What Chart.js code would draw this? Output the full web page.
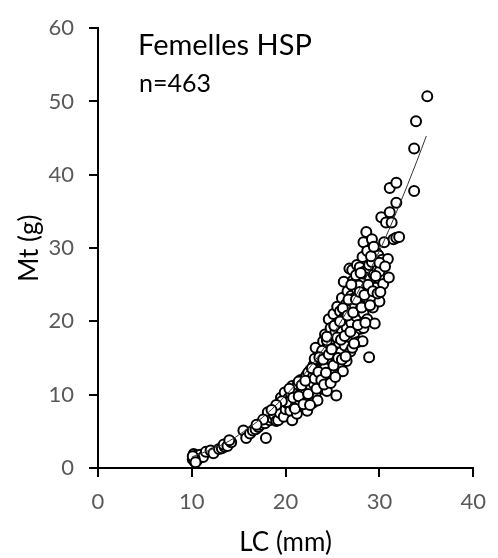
<!DOCTYPE html>
<html>
<head>
<meta charset="utf-8">
<script src="https://cdn.jsdelivr.net/npm/chart.js@4"></script>
<style>
    body { margin: 0; background: #fff; }
</style>
</head>
<body>
<canvas id="chart" width="498" height="558"></canvas>
<script>
// LC (mm) / Mt (g)
const lcValues = [
    10.1, 10.2, 10.3, 10.4, 10.2, 10.6, 10.5, 10.9, 11.2, 11.5, 12.0, 12.3, 12.9, 13.2, 13.5, 13.4, 13.8, 14.2, 14.0,
    15.5, 15.8, 16.2, 16.5, 16.8, 17.1, 17.3, 17.9, 17.8, 18.0, 18.3, 18.1, 18.6, 18.8, 19.0, 19.2, 19.2, 19.4, 19.5, 19.7, 19.9, 19.8,
    20.0, 20.2, 20.3, 20.5, 20.7, 20.7, 20.6, 20.9, 21.0, 21.1, 21.2, 21.3, 21.5, 21.5, 21.6, 21.8, 21.9, 22.0, 22.1, 22.2,
    22.3, 22.3, 22.5, 22.6, 22.7, 22.8, 22.9, 23.0, 23.0, 23.1, 23.2, 23.2, 23.3, 23.4, 23.5, 23.6, 23.7, 23.8, 23.9, 24.0,
    24.0, 24.1, 24.2, 24.2, 24.3, 24.4, 24.5, 24.6, 24.6, 24.7, 24.8, 24.9, 25.0, 25.0, 25.1, 25.2, 25.3, 25.4, 25.4, 25.5,
    25.5, 25.6, 25.7, 25.8, 25.8, 25.9, 26.0, 26.0, 26.1, 26.2, 26.2, 26.3, 26.4, 26.5, 26.5, 26.6, 26.7, 26.8, 26.8, 26.9,
    27.0, 27.0, 27.1, 27.1, 27.2, 27.3, 27.4, 27.5, 27.6, 27.6, 27.7, 27.8, 27.9, 27.9, 28.0, 28.0, 28.1, 28.2, 28.3, 28.3,
    28.3, 28.4, 28.5, 28.6, 28.6, 28.6, 28.7, 28.8, 28.9, 28.9, 29.0, 29.1, 29.2, 29.2, 29.3, 29.4, 29.5, 29.6, 29.7, 29.8,
    29.9, 30.0, 30.0, 30.2, 30.3, 30.4, 30.5, 30.7, 30.9, 31.0, 31.1, 31.1, 31.3, 31.5, 31.8, 31.8, 31.8, 32.1, 33.7, 33.7,
    33.9, 35.1,
    21.4, 22.4, 23.1, 23.9, 24.4, 25.2, 25.9, 26.4, 27.2, 27.8, 22.9, 24.8, 26.7, 28.1,
    20.1, 20.4, 20.8, 21.0, 21.4, 21.7, 21.9, 22.1, 22.4, 22.6, 22.8, 23.1, 23.3, 23.5, 23.6, 23.8, 24.0, 24.1, 24.3, 24.4,
    24.6, 24.8, 24.9, 25.1, 25.2, 25.3, 25.5, 25.6, 25.8, 25.9, 26.0, 26.1, 26.3, 26.4, 26.6, 26.7, 26.9, 27.0, 27.2, 27.3,
    27.5, 27.5, 27.7, 27.9, 28.0, 28.1, 28.2, 28.4, 28.5, 28.7, 28.8, 29.0, 29.1, 29.3, 29.4, 29.6, 29.8, 30.0, 30.1, 30.6,
    19.6, 19.0, 18.5, 17.6, 16.9, 10.3, 10.1, 10.4
];
const mtValues = [
    1.2, 1.6, 0.9, 1.4, 1.9, 1.1, 1.7, 1.8, 1.5, 2.2, 2.4, 2.0, 2.6, 2.7, 2.9, 3.2, 3.0, 3.5, 3.8,
    5.1, 4.1, 4.7, 5.1, 5.3, 5.6, 5.9, 4.1, 6.1, 6.9, 6.5, 7.6, 6.8, 7.2, 6.4, 6.5, 8.2, 7.5, 9.6, 8.7, 10.3, 7.0,
    8.0, 8.8, 9.5, 7.8, 6.5, 11.2, 10.1, 8.4, 9.3, 10.6, 7.4, 11.4, 8.9, 10.0, 12.0, 9.6, 11.0, 8.3, 10.4, 12.6,
    7.8, 11.7, 9.4, 13.3, 10.9, 12.1, 8.9, 14.1, 11.5, 13.9, 16.4, 10.2, 12.8, 9.2, 14.8, 11.9, 13.4, 15.6, 10.8, 12.5,
    17.3, 14.2, 13.6, 18.2, 15.9, 10.5, 16.8, 20.3, 12.1, 14.9, 19.1, 13.2, 17.6, 15.4, 21.0, 12.8, 18.5, 9.9, 16.3, 22.0,
    14.1, 19.8, 17.1, 13.9, 21.4, 15.8, 23.2, 18.6, 13.2, 25.4, 20.5, 16.7, 22.3, 14.6, 19.2, 24.1, 17.9, 27.2, 21.6, 15.9,
    23.5, 19.8, 16.4, 27.0, 25.6, 18.3, 22.0, 20.7, 27.7, 24.4, 17.2, 26.1, 27.4, 21.5, 19.0, 23.3, 25.2, 17.3, 30.8, 21.1,
    19.1, 26.8, 28.5, 32.2, 24.5, 22.7, 20.3, 27.3, 15.1, 27.7, 25.8, 23.4, 31.2, 28.1, 21.9, 26.4, 19.7, 24.6, 29.3, 27.0,
    29.0, 26.8, 22.7, 34.2, 28.4, 25.1, 30.8, 33.5, 28.5, 26.0, 38.2, 34.9, 33.5, 31.2, 38.9, 36.2, 31.4, 31.5, 37.8, 43.6,
    47.3, 50.7,
    11.8, 13.0, 14.9, 16.0, 17.4, 19.4, 20.1, 21.2, 23.1, 24.9, 12.4, 15.6, 20.9, 22.1,
    9.0, 10.8, 9.6, 8.1, 9.8, 11.3, 8.7, 11.9, 10.1, 8.6, 13.6, 12.2, 10.8, 13.1, 15.1, 12.0, 14.8, 11.4, 13.0, 17.9,
    15.5, 11.6, 16.2, 14.0, 19.4, 12.4, 17.8, 15.0, 20.0, 17.5, 14.8, 21.8, 18.0, 15.2, 20.8, 23.0, 18.6, 25.0, 21.2, 17.0,
    26.3, 23.0, 19.5, 24.0, 26.6, 21.9, 28.8, 23.6, 19.8, 29.6, 25.0, 22.2, 28.9, 24.1, 30.2, 26.2, 23.8, 28.0, 24.0, 27.5,
    9.1, 8.6, 7.9, 6.6, 5.9, 1.3, 1.6, 0.8
];

// fitted curve
const trendLC = [10, 12, 14, 16, 18, 20, 22, 24, 26, 28, 30, 32, 34, 35];
const trendMt = [1.5, 2.5, 3.7, 5.4, 7.4, 9.9, 12.8, 16.2, 20.2, 24.7, 29.6, 35.5, 41.9, 45.3];

const xTicks = [0, 10, 20, 30, 40];
const yTicks = [0, 10, 20, 30, 40, 50, 60];

const titleText = 'Femelles HSP';
const countText = 'n=463';

const FONT = 'Lato';

const points = lcValues.map((x, i) => ({ x, y: mtValues[i] }));
const trend = trendLC.map((x, i) => ({ x, y: trendMt[i] }));

const labelPlugin = {
    id: 'labels',
    afterDraw(chart) {
        const ctx = chart.ctx;
        ctx.save();
        ctx.fillStyle = '#000';
        ctx.textBaseline = 'alphabetic';
        ctx.textAlign = 'left';
        ctx.font = `29px ${FONT}`;
        ctx.fillText(titleText, 138, 55);
        ctx.font = `25px ${FONT}`;
        ctx.fillText(countText, 139, 92);
        ctx.restore();
    },
};

const axisStyle = {
    grid: { drawOnChartArea: false, drawTicks: true, tickLength: 9, color: '#000', lineWidth: 2 },
    border: { color: '#000', width: 2 },
};

new Chart(document.getElementById('chart'), {
    type: 'scatter',
    data: {
        datasets: [
            {
                type: 'line',
                data: trend,
                borderColor: '#333',
                borderWidth: 1,
                pointRadius: 0,
                cubicInterpolationMode: 'monotone',
                fill: false,
                order: 0,
            },
            {
                data: points,
                pointRadius: 5,
                pointBorderWidth: 2,
                pointBorderColor: '#000',
                pointBackgroundColor: '#fff',
                order: 1,
            },
        ],
    },
    options: {
        responsive: false,
        animation: false,
        devicePixelRatio: 1,
        layout: { padding: { top: 24, right: 20, left: 0, bottom: 0 } },
        plugins: { legend: { display: false }, tooltip: { enabled: false } },
        events: [],
        scales: {
            x: {
                type: 'linear',
                min: xTicks[0],
                max: xTicks[xTicks.length - 1],
                afterBuildTicks(scale) { scale.ticks = xTicks.map(v => ({ value: v })); },
                afterFit(scale) { scale.height = 90; },
                ticks: { color: '#595959', font: { family: FONT, size: 22 }, padding: 12 },
                title: { display: true, text: 'LC (mm)', color: '#000', font: { family: FONT, size: 26, lineHeight: 1.2 }, padding: { top: 2, bottom: 0 } },
                ...axisStyle,
            },
            y: {
                type: 'linear',
                min: yTicks[0],
                max: yTicks[yTicks.length - 1],
                afterBuildTicks(scale) { scale.ticks = yTicks.map(v => ({ value: v })); },
                afterFit(scale) { scale.width = 98; },
                ticks: { color: '#595959', font: { family: FONT, size: 22 }, padding: 15 },
                title: { display: true, text: 'Mt (g)', color: '#000', font: { family: FONT, size: 26, lineHeight: 1.2 }, padding: { top: 14, bottom: 0 } },
                ...axisStyle,
            },
        },
    },
    plugins: [labelPlugin],
});
</script>
</body>
</html>
